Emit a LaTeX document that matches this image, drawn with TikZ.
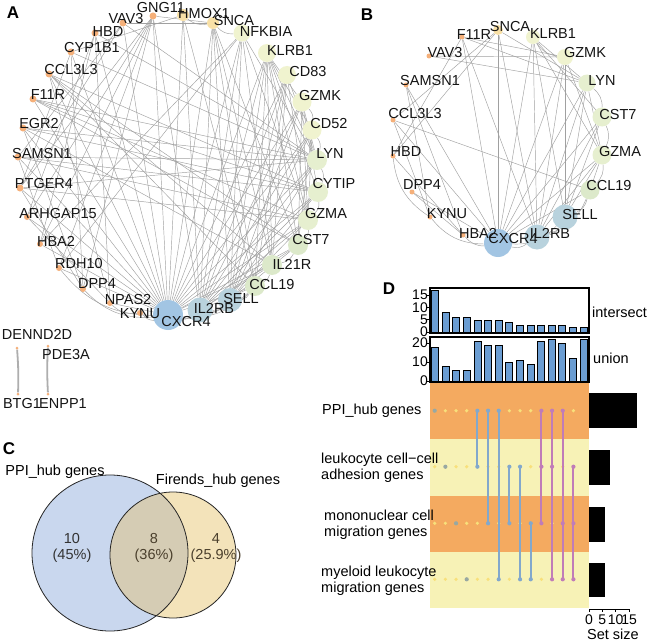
\documentclass[tikz,border=0pt]{standalone}
\usepackage{fontspec}
\setmainfont{Liberation Sans}
\pgfdeclarelayer{back}
\pgfdeclarelayer{bg}
\pgfdeclarelayer{fg}
\pgfsetlayers{back,bg,main,fg}
\definecolor{cOr}{HTML}{F5B07A}
\definecolor{cYe}{HTML}{F8E0A6}
\definecolor{cPa}{HTML}{F0F3CF}
\definecolor{cLg}{HTML}{E6EFCF}
\definecolor{cGr}{HTML}{DCE9CA}
\definecolor{cBg}{HTML}{B8D2DD}
\definecolor{cBl}{HTML}{A2C5E3}
\definecolor{edgeC}{HTML}{A0A0A0}
\definecolor{vennL}{HTML}{C9D7EE}
\definecolor{vennR}{HTML}{F3E3BA}
\definecolor{vennI}{HTML}{D5CCB4}
\definecolor{vennT}{HTML}{4A3F2C}
\definecolor{barC}{HTML}{6B9DD2}
\definecolor{stOr}{HTML}{F4AA60}
\definecolor{stYe}{HTML}{F7F2B6}
\definecolor{cEmp}{HTML}{F8E07A}
\definecolor{cSing}{HTML}{98A8A2}
\definecolor{cTwo}{HTML}{82A8CC}
\definecolor{cThree}{HTML}{C07CB8}
\tikzset{
  gdot/.style={circle,inner sep=0pt,draw=none},
  glbl/.style={font=\fontsize{14.5}{16}\selectfont,inner sep=0pt,text=black!92},
  edgeA/.style={draw=edgeC,line width=0.45pt},
  panel/.style={font=\bfseries\fontsize{17}{18}\selectfont,inner sep=0pt},
  txt/.style={font=\fontsize{14.5}{16}\selectfont,inner sep=0pt},
  ticklbl/.style={font=\fontsize{14}{14}\selectfont,inner sep=0pt,anchor=east},
  bar/.style={fill=barC,draw=black,line width=0.8pt},
  mdot/.style={circle,inner sep=0pt,minimum size=3.6pt,draw=none},
}
\newcommand{\mkgene}[8]{%
  \node[gdot,fill=#6,minimum size=#5] (#1-#2) at (#3,#4) {};
  \begin{pgfonlayer}{fg}\node[glbl] (#1-#2-t) at (#7,#8) {#2};\end{pgfonlayer}}
\begin{document}
\begin{tikzpicture}[x=1pt,y=-1pt]
\useasboundingbox (0,0) rectangle (651,642);
\begin{pgfonlayer}{back}\fill[white] (0,0) rectangle (651,642);\end{pgfonlayer}

% ---------------- Panel A ----------------
\node[panel] (pA) at (13,13) {A};
\mkgene{A}{GNG11}{153}{16}{7}{cOr}{161}{8}
\mkgene{A}{VAV3}{123}{23}{7}{cOr}{126}{19}
\mkgene{A}{HBD}{95}{33}{7}{cOr}{108}{32}
\mkgene{A}{CYP1B1}{71}{52}{7}{cOr}{92}{48}
\mkgene{A}{CCL3L3}{49}{74}{7}{cOr}{71}{70}
\mkgene{A}{F11R}{33}{99}{7}{cOr}{48}{95}
\mkgene{A}{EGR2}{23}{128}{7}{cOr}{39}{124}
\mkgene{A}{SAMSN1}{18}{157}{7}{cOr}{42}{154}
\mkgene{A}{PTGER4}{20}{188}{7}{cOr}{44}{184}
\mkgene{A}{ARHGAP15}{27}{217}{6}{cOr}{58}{214}
\mkgene{A}{HBA2}{40}{244}{6}{cOr}{56}{241}
\mkgene{A}{RDH10}{59}{268}{6}{cOr}{79}{264}
\mkgene{A}{DPP4}{83}{289}{6}{cOr}{97}{284}
\mkgene{A}{NPAS2}{110}{303}{6}{cOr}{128}{300}
\mkgene{A}{KYNU}{140}{313}{6}{cOr}{140}{314}
\mkgene{A}{CXCR4}{168}{315}{30}{cBl}{186}{322}
\mkgene{A}{IL2RB}{200}{310}{25}{cBg}{214}{308}
\mkgene{A}{SELL}{230}{300}{24}{cBg}{241}{299}
\mkgene{A}{CCL19}{255}{286}{20}{cGr}{272}{285}
\mkgene{A}{IL21R}{272}{265}{20}{cGr}{292}{264}
\mkgene{A}{CST7}{298}{245}{20}{cGr}{311}{240}
\mkgene{A}{GZMA}{308}{220}{20}{cLg}{326}{214}
\mkgene{A}{CYTIP}{318}{192}{20}{cLg}{334}{184}
\mkgene{A}{LYN}{317}{160}{20}{cLg}{330}{154}
\mkgene{A}{CD52}{312}{130}{19}{cPa}{329}{124}
\mkgene{A}{GZMK}{302}{102}{19}{cPa}{320}{96}
\mkgene{A}{CD83}{287}{75}{18}{cPa}{308}{72}
\mkgene{A}{KLRB1}{267}{53}{18}{cPa}{290}{51}
\mkgene{A}{NFKBIA}{242}{33}{17}{cPa}{266}{32}
\mkgene{A}{SNCA}{213}{23}{12}{cYe}{234}{21}
\mkgene{A}{HMOX1}{183}{15}{12}{cYe}{204}{14}

\begin{pgfonlayer}{bg}
\foreach \t in {GNG11,HMOX1,SNCA,NFKBIA,KLRB1,CD83,GZMK,CD52,LYN,CYTIP,GZMA,CST7,IL21R,CCL19,VAV3,HBD,CYP1B1,CCL3L3,F11R,EGR2,SAMSN1,PTGER4,ARHGAP15,HBA2,RDH10,NPAS2}
  \draw[edgeA] (A-CXCR4) -- (A-\t);
\foreach \a/\b in {IL2RB/GZMK,IL2RB/GZMA,IL2RB/CST7,IL2RB/KLRB1,IL2RB/CD83,IL2RB/NFKBIA,IL2RB/LYN,IL2RB/CYTIP,IL2RB/CD52,IL2RB/CCL19,IL2RB/IL21R,IL2RB/HMOX1,IL2RB/GNG11,IL2RB/SNCA,
  SELL/CD83,SELL/GZMK,SELL/LYN,SELL/CD52,SELL/KLRB1,SELL/CYTIP,SELL/GZMA,SELL/NFKBIA,SELL/SNCA,SELL/CST7,
  LYN/F11R,LYN/EGR2,LYN/SAMSN1,LYN/PTGER4,LYN/VAV3,LYN/CYP1B1,LYN/HBD,LYN/GZMK,LYN/KLRB1,LYN/CD83,LYN/NFKBIA,
  CYTIP/EGR2,CYTIP/SAMSN1,CYTIP/CCL3L3,CYTIP/F11R,CYTIP/KLRB1,CYTIP/GZMK,
  GZMA/GZMK,GZMA/KLRB1,GZMA/CD52,GZMA/PTGER4,GZMA/CD83,GZMA/NFKBIA,
  GZMK/KLRB1,GZMK/CST7,CD52/KLRB1,CD52/CST7,
  NFKBIA/RDH10,NFKBIA/HBA2,NFKBIA/IL21R,
  GNG11/HBA2,GNG11/RDH10,GNG11/DPP4,GNG11/ARHGAP15,GNG11/PTGER4,GNG11/SNCA,
  VAV3/SAMSN1,VAV3/PTGER4,VAV3/SNCA,HBD/HBA2,HBD/ARHGAP15,HBD/NPAS2,CYP1B1/PTGER4,CYP1B1/HMOX1,CYP1B1/DPP4,
  CCL3L3/CCL19,CCL3L3/IL21R,CCL3L3/CST7,CCL3L3/NPAS2,F11R/CST7,F11R/GZMA,EGR2/IL21R,EGR2/DPP4,SAMSN1/GZMA,SAMSN1/RDH10,
  SNCA/CST7,SNCA/IL21R,SNCA/CCL19,KLRB1/CCL19,KLRB1/IL21R,KLRB1/CST7,CD83/IL21R,CD83/CCL19,HMOX1/CCL19,
  PTGER4/DPP4,ARHGAP15/NPAS2}
  \draw[edgeA] (A-\a) -- (A-\b);
\foreach \a/\b in {DPP4/CXCR4,RDH10/CXCR4,NPAS2/KYNU,KYNU/CXCR4,CXCR4/IL2RB,IL2RB/SELL,SELL/CCL19,CCL19/IL21R,IL21R/CST7,CST7/GZMA,GZMA/CYTIP,CYTIP/LYN,LYN/CD52,CD52/GZMK,HMOX1/SNCA,SNCA/NFKBIA,CXCR4/SELL,CXCR4/CCL19,IL2RB/CCL19}
  \draw[edgeA] (A-\a) to[bend right=25] (A-\b);
\end{pgfonlayer}

% small network
\node[gdot,fill=cOr,minimum size=3] (DEN) at (17,348) {};
\node[gdot,fill=cOr,minimum size=3] (BTG) at (18,394) {};
\node[gdot,fill=cOr,minimum size=3] (PDE) at (48,346) {};
\node[gdot,fill=cOr,minimum size=3] (ENP) at (48,394) {};
\begin{pgfonlayer}{bg}
\draw[draw=edgeC!85,line width=1.8pt] (DEN) to[bend left=3] (BTG);
\draw[draw=edgeC!85,line width=1.8pt] (PDE) to[bend right=3] (ENP);
\end{pgfonlayer}
\node[glbl] (DEN-t) at (37,334) {DENND2D};
\node[glbl] (PDE-t) at (66,355) {PDE3A};
\node[glbl] (BTG-t) at (22,404) {BTG1};
\node[glbl] (ENP-t) at (63,404) {ENPP1};

% ---------------- Panel B ----------------
\node[panel] (pB) at (367,15) {B};
\mkgene{B}{SNCA}{498}{30}{10}{cYe}{510}{27}
\mkgene{B}{KLRB1}{533}{37}{14}{cPa}{553}{34}
\mkgene{B}{GZMK}{565}{57}{16}{cPa}{585}{53}
\mkgene{B}{LYN}{587}{83}{17}{cLg}{602}{81}
\mkgene{B}{CST7}{602}{117}{19}{cLg}{618}{115}
\mkgene{B}{GZMA}{602}{155}{19}{cLg}{620}{152}
\mkgene{B}{CCL19}{590}{190}{19}{cGr}{609}{186}
\mkgene{B}{SELL}{565}{217}{25}{cBg}{580}{215}
\mkgene{B}{IL2RB}{537}{237}{25}{cBg}{550}{233}
\mkgene{B}{CXCR4}{498}{243}{28}{cBl}{513}{239}
\mkgene{B}{HBA2}{463}{235}{5}{cOr}{478}{233}
\mkgene{B}{KYNU}{430}{217}{5}{cOr}{447}{214}
\mkgene{B}{DPP4}{412}{192}{5}{cOr}{422}{185}
\mkgene{B}{HBD}{393}{156}{5}{cOr}{406}{152}
\mkgene{B}{CCL3L3}{393}{120}{5}{cOr}{415}{114}
\mkgene{B}{SAMSN1}{406}{85}{5}{cOr}{430}{81}
\mkgene{B}{VAV3}{429}{56}{5}{cOr}{445}{53}
\mkgene{B}{F11R}{462}{37}{5}{cOr}{474}{35}
\begin{pgfonlayer}{bg}
\foreach \t in {SNCA,KLRB1,GZMK,LYN,CST7,GZMA,CCL19,F11R,CCL3L3,DPP4,SAMSN1}
  \draw[edgeA] (B-CXCR4) -- (B-\t);
\foreach \a/\b in {IL2RB/KLRB1,IL2RB/GZMK,IL2RB/LYN,IL2RB/CST7,IL2RB/GZMA,IL2RB/F11R,IL2RB/SNCA,
  SELL/KLRB1,SELL/GZMK,SELL/GZMA,SELL/CST7,SELL/LYN,
  KLRB1/LYN,KLRB1/GZMA,KLRB1/CST7,LYN/F11R,LYN/VAV3,LYN/SNCA,LYN/GZMA,
  GZMK/F11R,GZMK/VAV3,GZMK/GZMA,CCL3L3/CCL19,CCL3L3/KYNU,HBD/SNCA,HBD/HBA2,
  SAMSN1/HBA2,SAMSN1/KYNU,F11R/HBD,SNCA/CCL3L3,DPP4/HBA2,GZMA/CCL19}
  \draw[edgeA] (B-\a) -- (B-\b);
\foreach \a/\b in {HBD/KYNU,KYNU/CXCR4,HBA2/CXCR4,CXCR4/IL2RB,IL2RB/SELL,SELL/CCL19,CCL19/GZMA,GZMA/CST7,CST7/LYN,KLRB1/GZMK,CXCR4/SELL,IL2RB/CCL19}
  \draw[edgeA] (B-\a) to[bend right=25] (B-\b);
\end{pgfonlayer}

% ---------------- Panel C ----------------
\node[panel] (pC) at (9,449) {C};
\node[circle,minimum size=156,inner sep=0,fill=vennL] (vL) at (110,553) {};
\node[circle,minimum size=126,inner sep=0,fill=vennR] (vR) at (173,555) {};
\begin{scope}
  \clip (110,553) circle (78pt);
  \fill[vennI] (173,555) circle (63pt);
\end{scope}
\draw[black!85,line width=0.8pt] (vL.center) circle (78pt);
\draw[black!85,line width=0.8pt] (vR.center) circle (63pt);
\node[txt] (vLt) at (55,472) {PPI\_hub genes};
\node[txt] (vRt) at (218,481) {Firends\_hub genes};
\node[txt,align=center,text=black!80] (n10) at (72,548) {10\\(45\%)};
\node[txt,align=center,text=vennT] (n8) at (154,548) {8\\(36\%)};
\node[txt,align=center,text=vennT] (n4) at (216,548) {4\\(25.9\%)};

% ---------------- Panel D ----------------
\node[panel] (pD) at (389,289) {D};
% intersect bars
\foreach \v [count=\i from 0] in {17,8,6,6,5,5,5,4,3,3,3,3,3,2,2}
  \draw[bar] ({435+10.6*\i-3.5},332.5) rectangle ++(7,{-2.47*\v});
\draw[black,line width=1.4pt] (430,288) rectangle (589,333);
\foreach \v [count=\k] in {0,5,10,15} {
  \draw[black,line width=0.8pt] (426,{332-2.47*\v}) -- (430,{332-2.47*\v});
  \node[ticklbl] (it\k) at (428,{332-2.47*\v}) {\v};
}
\node[txt,anchor=west] (ilab) at (592,312) {intersect};
% union bars
\foreach \v [count=\i from 0] in {18,8,6,6,21,19,19,10,11,9,21,22,20,12,22}
  \draw[bar] ({435+10.6*\i-3.5},381.5) rectangle ++(7,{-1.9*\v});
\draw[black,line width=1.4pt] (430,337) rectangle (589,382);
\foreach \v [count=\k] in {0,10,20} {
  \draw[black,line width=0.8pt] (426,{381-1.9*\v}) -- (430,{381-1.9*\v});
  \node[ticklbl] (ut\k) at (428,{381-1.9*\v}) {\v};
}
\node[txt,anchor=west] (ulab) at (593,358) {union};
% stripes
\fill[stOr] (430,382.7) rectangle (589,439);
\fill[stYe] (430,439) rectangle (589,496);
\fill[stOr] (430,496) rectangle (589,552);
\fill[stYe] (430,552) rectangle (589,608);
% set labels
\node[txt,anchor=west] (s1) at (322,411) {PPI\_hub genes};
\node[txt,anchor=west,align=left] (s2) at (321,468) {leukocyte cell−cell\\adhesion genes};
\node[txt,anchor=west,align=left] (s3) at (324,525) {mononuclear cell\\migration genes};
\node[txt,anchor=west,align=left] (s4) at (321,581) {myeloid leukocyte\\migration genes};
% matrix dots
\foreach \i in {1,...,14}
  \foreach \r/\y in {1/410.7,2/466.7,3/523.3,4/579.3}
    \node[mdot,fill=cEmp] (m-\i-\r) at ({434.7+10.67*(\i-1)},\y) {};
% lines
\foreach \i/\a/\b/\cc in {5/1/2/cTwo,6/1/3/cTwo,7/1/4/cTwo,8/2/3/cTwo,9/2/4/cTwo,10/3/4/cTwo,11/1/3/cThree,12/1/4/cThree,13/1/4/cThree,14/2/4/cThree}
  \draw[draw=\cc,line width=2pt] (m-\i-\a.center) -- (m-\i-\b.center);
% filled dots
\foreach \i/\r/\cc in {1/1/cSing,2/2/cSing,3/3/cSing,4/4/cSing,
  5/1/cTwo,5/2/cTwo,6/1/cTwo,6/3/cTwo,7/1/cTwo,7/4/cTwo,8/2/cTwo,8/3/cTwo,9/2/cTwo,9/4/cTwo,10/3/cTwo,10/4/cTwo,
  11/1/cThree,11/2/cThree,11/3/cThree,12/1/cThree,12/2/cThree,12/4/cThree,13/1/cThree,13/3/cThree,13/4/cThree,14/2/cThree,14/3/cThree,14/4/cThree}
  \node[mdot,fill=\cc,minimum size=4.2pt] (f-\i-\r) at (m-\i-\r) {};
% set size bars
\fill[black] (589,393) rectangle ({589+2.67*18},428);
\fill[black] (589,450) rectangle ({589+2.67*8},485);
\fill[black] (589,507) rectangle ({589+2.67*6},542);
\fill[black] (589,563) rectangle ({589+2.67*6},597);
\draw[black,line width=0.8pt] (589,609) -- ({589+2.67*15},609);
\foreach \v [count=\k] in {0,5,10,15} {
  \draw[black,line width=0.8pt] ({589+2.67*\v},609) -- ({589+2.67*\v},612);
  \node[font=\fontsize{14}{14}\selectfont,inner sep=0pt] (sx\k) at ({589+2.67*\v},620) {\v};
}
\node[txt] (sslab) at (613,634) {Set size};
\end{tikzpicture}
\end{document}
